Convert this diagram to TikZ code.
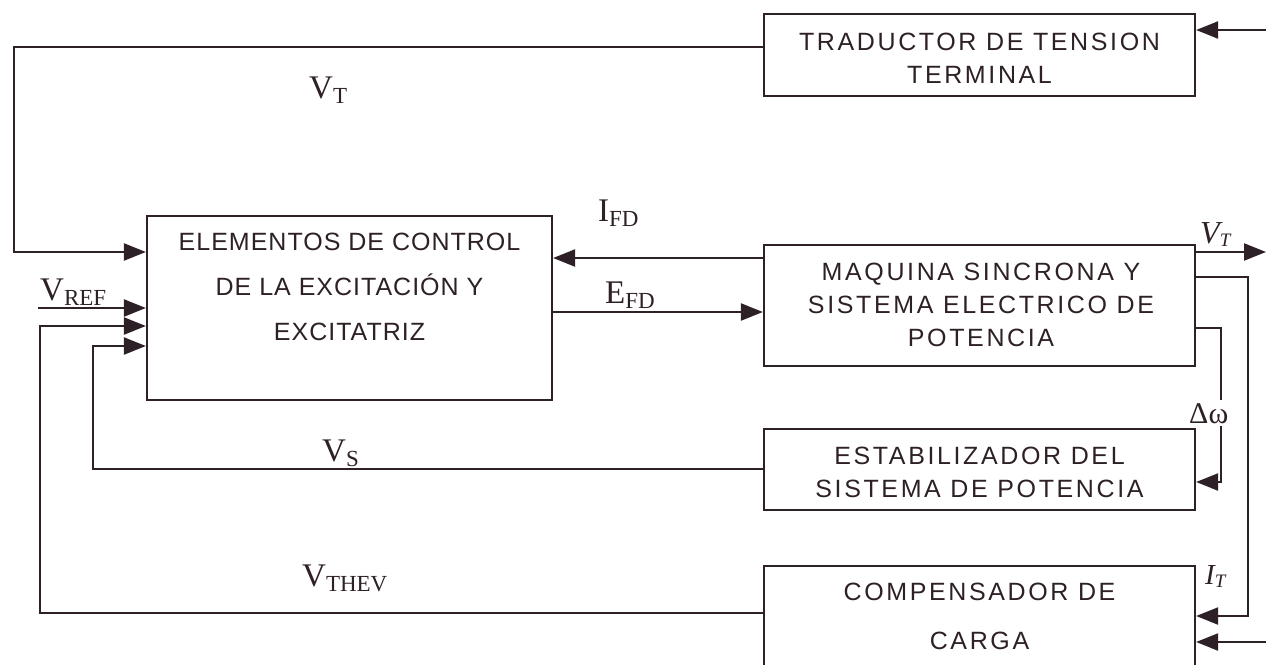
\documentclass[tikz,border=0pt]{standalone}
\usepackage{fontspec}
\setmainfont{Liberation Serif}
\newfontfamily\boxfont[LetterSpace=10.5]{Liberation Sans}
\newfontfamily\boxfontn[LetterSpace=4]{Liberation Sans}
\usetikzlibrary{arrows.meta}
\definecolor{lc}{RGB}{45,32,38}
\newcommand{\sublab}[2]{\fontsize{33}{33}\selectfont #1\raisebox{-5pt}{\fontsize{23}{23}\selectfont #2}}
\newcommand{\itlab}[3]{\fontsize{#3}{#3}\selectfont\itshape #1\raisebox{-3pt}{\fontsize{19}{19}\selectfont #2}}
\begin{document}
\begin{tikzpicture}[x=1pt,y=-1pt,
  ln/.style={line width=2.2pt, draw=lc},
  arr/.style={ln, -{Triangle[length=22pt,width=17pt]}},
  blk/.style={draw=lc, line width=2.2pt, inner sep=0pt, minimum width=431pt},
  btxt/.style={font=\boxfont\fontsize{25}{#1}\selectfont, align=center, text=lc, inner sep=0pt, anchor=north},
  lab/.style={anchor=base west, inner sep=0pt, text=lc}]
\useasboundingbox (0,0) rectangle (1266,664);
\clip (0,0) rectangle (1266,664);
% blocks
\node[blk, minimum height=82pt] (trad) at (979.5,55) {};
\node[blk, minimum width=405pt, minimum height=184pt] (elem) at (349.5,308) {};
\node[blk, minimum height=121pt] (maq) at (979.5,305.5) {};
\node[blk, minimum height=81pt] (est) at (979.5,469.5) {};
\node[blk, minimum height=120pt] (comp) at (979.5,626) {};
% block texts
\node[btxt=33] (tradtxt) at (979.5,33) {TRADUCTOR DE TENSION\\TERMINAL};
\node[btxt=45, font=\boxfontn\fontsize{25}{45}\selectfont] (elemtxt) at (349.5,233) {ELEMENTOS DE CONTROL\\DE LA EXCITACIÓN Y\\EXCITATRIZ};
\node[btxt=33] (maqtxt) at (981,263) {MAQUINA SINCRONA Y\\SISTEMA ELECTRICO DE\\POTENCIA};
\node[btxt=33] (esttxt) at (979.5,447) {ESTABILIZADOR DEL\\SISTEMA DE POTENCIA};
\node[btxt=49] (comptxt) at (979.5,583) {COMPENSADOR DE\\CARGA};
% connectors
\coordinate (tl) at (14,47);
\draw[arr] (trad.west |- tl) -- (tl) |- (elem.west |- 0,252);
\coordinate (tin) at (1266,30);
\draw[arr] (tin) -- (trad.east |- tin);
\draw[arr] (maq.west |- 0,258) -- (elem.east |- 0,258);
\draw[arr] (elem.east |- 0,312) -- (maq.west |- 0,312);
\coordinate (vout) at (1266,252);
\draw[arr] (maq.east |- vout) -- (vout);
\coordinate (r1) at (1248,277);
\draw[arr] (maq.east |- r1) -- (r1) |- (comp.east |- 0,616);
\coordinate (r2) at (1221,328);
\draw[arr] (maq.east |- r2) -- (r2) |- (est.east |- 0,482);
\coordinate (cin) at (1266,642);
\draw[arr] (cin) -- (comp.east |- cin);
\coordinate (l2) at (93,469);
\draw[arr] (est.west |- l2) -- (l2) |- (elem.west |- 0,346);
\coordinate (l3) at (40,613);
\draw[arr] (comp.west |- l3) -- (l3) |- (elem.west |- 0,326);
\coordinate (vref) at (38,308);
\draw[arr] (vref) -- (elem.west |- vref);
% labels
\node[lab] (vt) at (309,98) {\sublab{V}{T}};
\node[lab] (ifd) at (598,221) {\sublab{I}{FD}};
\node[lab] (efd) at (605,303) {\sublab{E}{FD}};
\node[lab] (vrefl) at (40,300) {\sublab{V}{REF}};
\node[lab] (vs) at (322,461) {\sublab{V}{S}};
\node[lab] (vthev) at (302,586) {\sublab{V}{THEV}};
\node[lab] (vtr) at (1200,243) {\itlab{V}{T}{32}};
\node[lab] (itr) at (1205,584) {\itlab{I}{T}{29}};
\node[lab, fill=white, inner sep=3pt] (dw) at (1186,423) {\fontsize{30}{30}\selectfont Δω};
\end{tikzpicture}
\end{document}
